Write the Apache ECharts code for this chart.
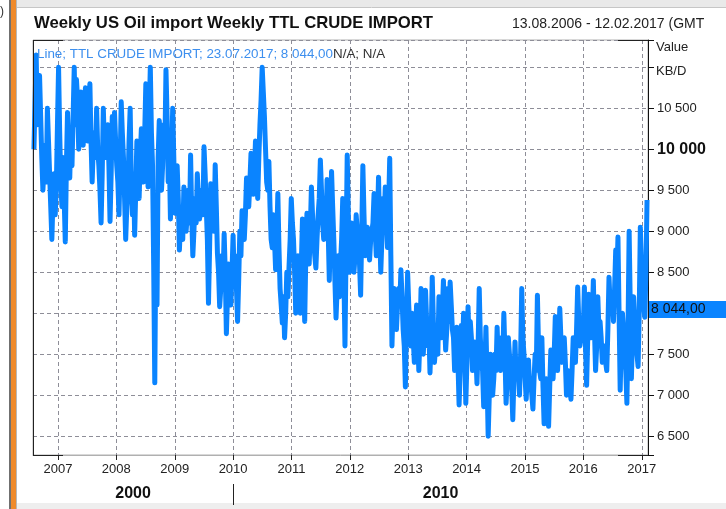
<!DOCTYPE html>
<html>
<head>
<meta charset="utf-8">
<script src="https://cdn.jsdelivr.net/npm/echarts@6/dist/echarts.min.js"></script>
<style>
html, body { margin: 0; padding: 0; background: #fff; }
#main { width: 726px; height: 509px; }
</style>
</head>
<body>
<div id="main"></div>
<script>
// NOTE - data: weekly TTL crude import (KB/D)

var firstWeek = '2006-08-04';
var stepDays = 7;

var imports2006to2008 = [10000, 10600, 11150, 10300, 10750, 10900, 10400, 9900, 9500, 9800,
  10050, 9600, 10500, 10100, 9700, 9300, 8900, 9400, 9700, 9200,
  9550, 10300, 11000, 10200, 9600, 9300, 9900, 9400, 8870, 9800,
  10450, 10000, 9650, 10200, 9800, 10400, 11000, 10300, 10850, 10600,
  10000, 10400, 10700, 10200, 10050, 10500, 10750, 10300, 10100, 10600,
  10800, 10100, 9600, 10000, 10200, 9900, 10500, 10000, 9800, 9500,
  9100, 9700, 10500, 10000, 9900, 10200, 10300, 9800, 9120, 9700,
  10400, 9900, 10450, 10100, 9800, 9600, 9200, 9800, 10580, 10200,
  9900, 9400, 8900, 9300, 9500, 10100, 10500, 9600, 9200, 9700];
var imports2008to2010 = [8950, 9500, 10100, 9800, 9400, 9900, 10250, 10000, 9600, 10200,
  10800, 10300, 9540, 10400, 11000, 10200, 9800, 8600, 7150, 9000,
  8100, 9900, 10350, 10100, 9500, 9800, 10300, 10000, 10970, 10400,
  9600, 9900, 9150, 9800, 10500, 9900, 9220, 9500, 9800, 9400,
  8770, 9100, 9300, 8900, 9540, 9300, 9000, 9200, 9500, 9100,
  9930, 9200, 8700, 9000, 9400, 9100, 9700, 9400, 9150, 9300,
  9500, 9200, 10030, 9700, 9300, 8900, 8120, 8800, 9580, 9300,
  9200, 9000, 9810, 9300, 8730, 8500, 8080, 8300, 8700, 8400,
  8970, 8500, 7750, 8200, 8600, 8300, 8100, 8500, 8950, 8400,
  8700, 8300];
var imports2010to2012 = [7900, 8400, 9000, 8700, 9250, 9100, 8900, 9200, 9650, 9500,
  9300, 9600, 9950, 9700, 9450, 9700, 10100, 9800, 9400, 9900,
  10300, 10600, 11000, 10700, 10400, 10000, 9600, 9500, 9850, 9300,
  8900, 8800, 9200, 8900, 8530, 8900, 9460, 8800, 8300, 8100,
  7880, 8200, 7700, 8000, 8500, 8200, 8570, 8900, 9400, 9100,
  8900, 8500, 8000, 8300, 8700, 8400, 8000, 8600, 9150, 8500,
  7900, 8700, 9220, 8900, 8600, 9000, 9540, 9200, 8900, 8700,
  8550, 8900, 9200, 9400, 9870, 9500, 9100, 8900, 9250, 9000,
  9630, 9000, 8400, 9100, 9730, 9300, 8900, 8400, 7940, 8300,
  8700, 8200];
var imports2012to2014 = [8600, 8900, 9400, 8500, 7600, 8800, 9930, 9200, 8500, 8800,
  9100, 8900, 8500, 8700, 9200, 9000, 8800, 8600, 8220, 9000,
  9800, 9200, 8700, 8800, 9050, 8800, 8650, 8900, 9000, 9100,
  9460, 9000, 8700, 9100, 9660, 9000, 8500, 8900, 9400, 9100,
  9540, 9200, 8800, 9300, 9890, 8700, 7600, 8100, 8300, 8000,
  7800, 8100, 8300, 8100, 8530, 8200, 7800, 7600, 7100, 7900,
  8500, 8100, 7800, 7600, 8000, 7700, 7400, 7700, 8100, 7800,
  7300, 7700, 8300, 7900, 7500, 7800, 8280, 7900, 7600, 7800,
  7270, 7700, 8440, 7900, 7400, 7600, 7800, 7500, 8200, 7900,
  7700, 8000];
var imports2014to2015 = [8400, 7900, 7550, 7800, 8300, 7900, 8380, 8100, 7800, 7700,
  7300, 7500, 7830, 7400, 6880, 7300, 7850, 7500, 8000, 7600,
  6900, 7400, 8080, 7600, 7900, 7700, 7300, 7400, 7650, 7500,
  7140, 7600, 8300, 7700, 7400, 7300, 6860, 7300, 7830, 7200,
  6500, 7000, 7500, 7300, 7000, 7200, 7500, 7300, 7830, 7400,
  7600, 7300, 7700, 7400, 8000, 7500, 6900, 7200, 7700, 7500,
  7300, 7100, 6700, 7200, 7650, 7200, 7400, 7300, 7000, 7500,
  8300, 7700, 7500, 7200, 6950, 7300, 7430, 7100, 7200, 7000,
  6830, 7200, 7500, 7300, 8220, 7600, 7300, 7200, 7700, 7100,
  6650, 7000];
var imports2015to2017 = [7200, 7000, 6620, 7100, 7550, 7400, 7200, 7500, 7960, 7600,
  7300, 7600, 8060, 7700, 7400, 7500, 7700, 7400, 7000, 7300,
  7200, 7100, 6950, 7300, 7700, 7500, 7400, 7800, 8320, 7900,
  7600, 7700, 7900, 7800, 8320, 7600, 7120, 7700, 8230, 7900,
  7700, 7900, 8400, 7800, 7300, 7600, 8200, 7800, 7900, 7700,
  7400, 7500, 7600, 7400, 7300, 7800, 8440, 8100, 8000, 8200,
  7900, 8300, 8770, 8400, 8930, 8000, 7060, 7700, 8000, 7800,
  7500, 7300, 6900, 7800, 9000, 8100, 7200, 7700, 8200, 7900,
  7700, 7500, 7350, 8000, 9050, 8600, 8400, 8100, 7950, 8500,
  9380];

var lastValue = 8044;
var legendText = 'Line; TTL CRUDE IMPORT; 23.07.2017; 8 044,00';
var yLabelMax = 10500;

var axisStart = Date.parse('2006-07-29');
var axisEnd = Date.parse('2017-02-09');

// NOTE - build series

var allImports = [].concat(imports2006to2008, imports2008to2010, imports2010to2012,
  imports2012to2014, imports2014to2015, imports2015to2017);
var t0 = Date.parse(firstWeek);
var seriesData = allImports.map(function (v, i) {
  return [t0 + i * stepDays * 86400000, v];
});

function spaced(v) {
  return String(v).replace(/\B(?=(\d{3})+(?!\d))/g, ' ');
}

var FONT = 'Liberation Sans, Arial, sans-serif';
var gridDash = { type: [4, 3], color: '#8e8e98', width: 1 };

var myChart = echarts.init(document.getElementById('main'));

var option = {
  animation: false,
  backgroundColor: '#fff',
  textStyle: { fontFamily: FONT },
  title: [
    {
      text: 'Weekly US Oil import Weekly TTL CRUDE IMPORT',
      left: 34, top: 15, padding: 0,
      textStyle: { fontSize: 16.7, fontWeight: 'bold', color: '#111', fontFamily: FONT }
    },
    {
      text: '13.08.2006 - 12.02.2017 (GMT',
      left: 512, top: 17, padding: 0,
      textStyle: { fontSize: 14, fontWeight: 'normal', color: '#222', fontFamily: FONT }
    }
  ],
  legend: {
    left: 32, top: 48, padding: 0,
    icon: 'rect', itemWidth: 0, itemHeight: 0,
    selectedMode: false,
    formatter: function () {
      return '{a|' + legendText + '}{b|N/A; N/A}';
    },
    textStyle: {
      rich: {
        a: { color: '#3d8fee', fontSize: 13.4, fontFamily: FONT },
        b: { color: '#333', fontSize: 13.4, fontFamily: FONT }
      }
    }
  },
  grid: {
    left: 33, right: 78, top: 40, bottom: 54,
    show: true, borderColor: '#b0b0b0', borderWidth: 1
  },
  xAxis: {
    type: 'time',
    min: axisStart, max: axisEnd,
    minInterval: 365 * 86400000, maxInterval: 366 * 86400000,
    axisLine: { show: true, lineStyle: { color: '#b0b0b0' } },
    axisTick: { show: true, length: 5, lineStyle: { color: '#222' } },
    axisLabel: {
      formatter: '{yyyy}', color: '#222', fontSize: 13, margin: 8,
      showMinLabel: false, showMaxLabel: false, fontFamily: FONT
    },
    splitLine: { show: true, lineStyle: gridDash }
  },
  yAxis: {
    type: 'value', position: 'right',
    min: 6270, max: 11333, splitNumber: 10,
    axisLine: { show: true, lineStyle: { color: '#111' } },
    axisTick: { show: true, length: 6, lineStyle: { color: '#111' } },
    axisLabel: {
      margin: 9, color: '#222', fontSize: 13, fontFamily: FONT,
      formatter: function (v) {
        if (v % 500 !== 0 || v > yLabelMax) return '';
        return v === 10000 ? '{b|' + spaced(v) + '}' : spaced(v);
      },
      rich: { b: { fontWeight: 'bold', fontSize: 16, color: '#111', fontFamily: FONT } }
    },
    splitLine: { show: true, lineStyle: gridDash }
  },
  series: [
    {
      name: 'TTL CRUDE IMPORT',
      type: 'line',
      data: seriesData,
      showSymbol: false,
      symbol: 'none',
      color: '#0a84ff',
      lineStyle: { color: '#0a84ff', width: 5, join: 'round', cap: 'butt' },
      markLine: {
        silent: true,
        symbol: 'none',
        lineStyle: { color: 'rgba(0,0,0,0)', width: 0 },
        data: [{ yAxis: lastValue }],
        label: {
          show: true,
          position: 'end', distance: 1,
          formatter: spaced(lastValue) + ',00',
          backgroundColor: '#0a84ff', color: '#111', fontSize: 14, fontFamily: FONT,
          padding: [2, 30, 1, 2]
        }
      }
    }
  ]
};

myChart.setOption(option);

// NOTE - frame and decade labels

var gx0 = myChart.convertToPixel({ xAxisIndex: 0 }, axisStart);
var gx1 = myChart.convertToPixel({ xAxisIndex: 0 }, axisEnd);
var gx2010 = myChart.convertToPixel({ xAxisIndex: 0 }, Date.parse('2010-01-01'));
var gyTop = 40, gyBot = 455;

function hline(x1, x2, y, c) {
  return { type: 'line', z: 100, shape: { x1: x1, y1: y, x2: x2, y2: y }, style: { stroke: c, lineWidth: 1 } };
}

myChart.setOption({
  graphic: [
    { type: 'rect', z: 0, shape: { x: 17, y: 0, width: 709, height: 7 }, style: { fill: '#e9e9e9' } },
    hline(17, 726, 7.5, '#c6c6c6'),
    { type: 'rect', z: 0, shape: { x: 17, y: 503, width: 709, height: 6 }, style: { fill: '#eeeeee' } },
    { type: 'rect', z: 100, shape: { x: 9, y: 0, width: 2, height: 509 }, style: { fill: '#707070' } },
    { type: 'rect', z: 100, shape: { x: 11, y: 0, width: 5, height: 509 }, style: { fill: '#ef8a2b' } },
    { type: 'rect', z: 100, shape: { x: 16, y: 0, width: 1, height: 509 }, style: { fill: '#b8b8b8' } },
    { type: 'text', z: 100, x: 0, y: 6, style: { text: ')', fill: '#333', font: '12px ' + FONT } },
    { type: 'line', z: 100, shape: { x1: gx0 + 0.5, y1: gyTop, x2: gx0 + 0.5, y2: gyBot }, style: { stroke: '#222', lineWidth: 1 } },
    hline(gx0, gx0 + 30, gyTop + 0.5, '#222'),
    hline(gx1 - 30, gx1, gyTop + 0.5, '#222'),
    hline(gx0, gx0 + 30, gyBot + 0.5, '#222'),
    hline(gx1 - 30, gx1, gyBot + 0.5, '#222'),
    { type: 'text', z: 100, x: 656, y: 41, style: { text: 'Value', fill: '#222', font: '13px ' + FONT } },
    { type: 'text', z: 100, x: 656, y: 65, style: { text: 'KB/D', fill: '#222', font: '13px ' + FONT } },
    { type: 'line', z: 100, shape: { x1: Math.round(gx2010) + 0.5, y1: 484, x2: Math.round(gx2010) + 0.5, y2: 505 }, style: { stroke: '#222', lineWidth: 1 } },
    { type: 'text', z: 100, x: (gx0 + gx2010) / 2, y: 494, style: { text: '2000', fill: '#111', font: 'bold 16px ' + FONT, textAlign: 'center', textVerticalAlign: 'middle' } },
    { type: 'text', z: 100, x: (gx2010 + gx1) / 2, y: 494, style: { text: '2010', fill: '#111', font: 'bold 16px ' + FONT, textAlign: 'center', textVerticalAlign: 'middle' } }
  ]
});
</script>
</body>
</html>
